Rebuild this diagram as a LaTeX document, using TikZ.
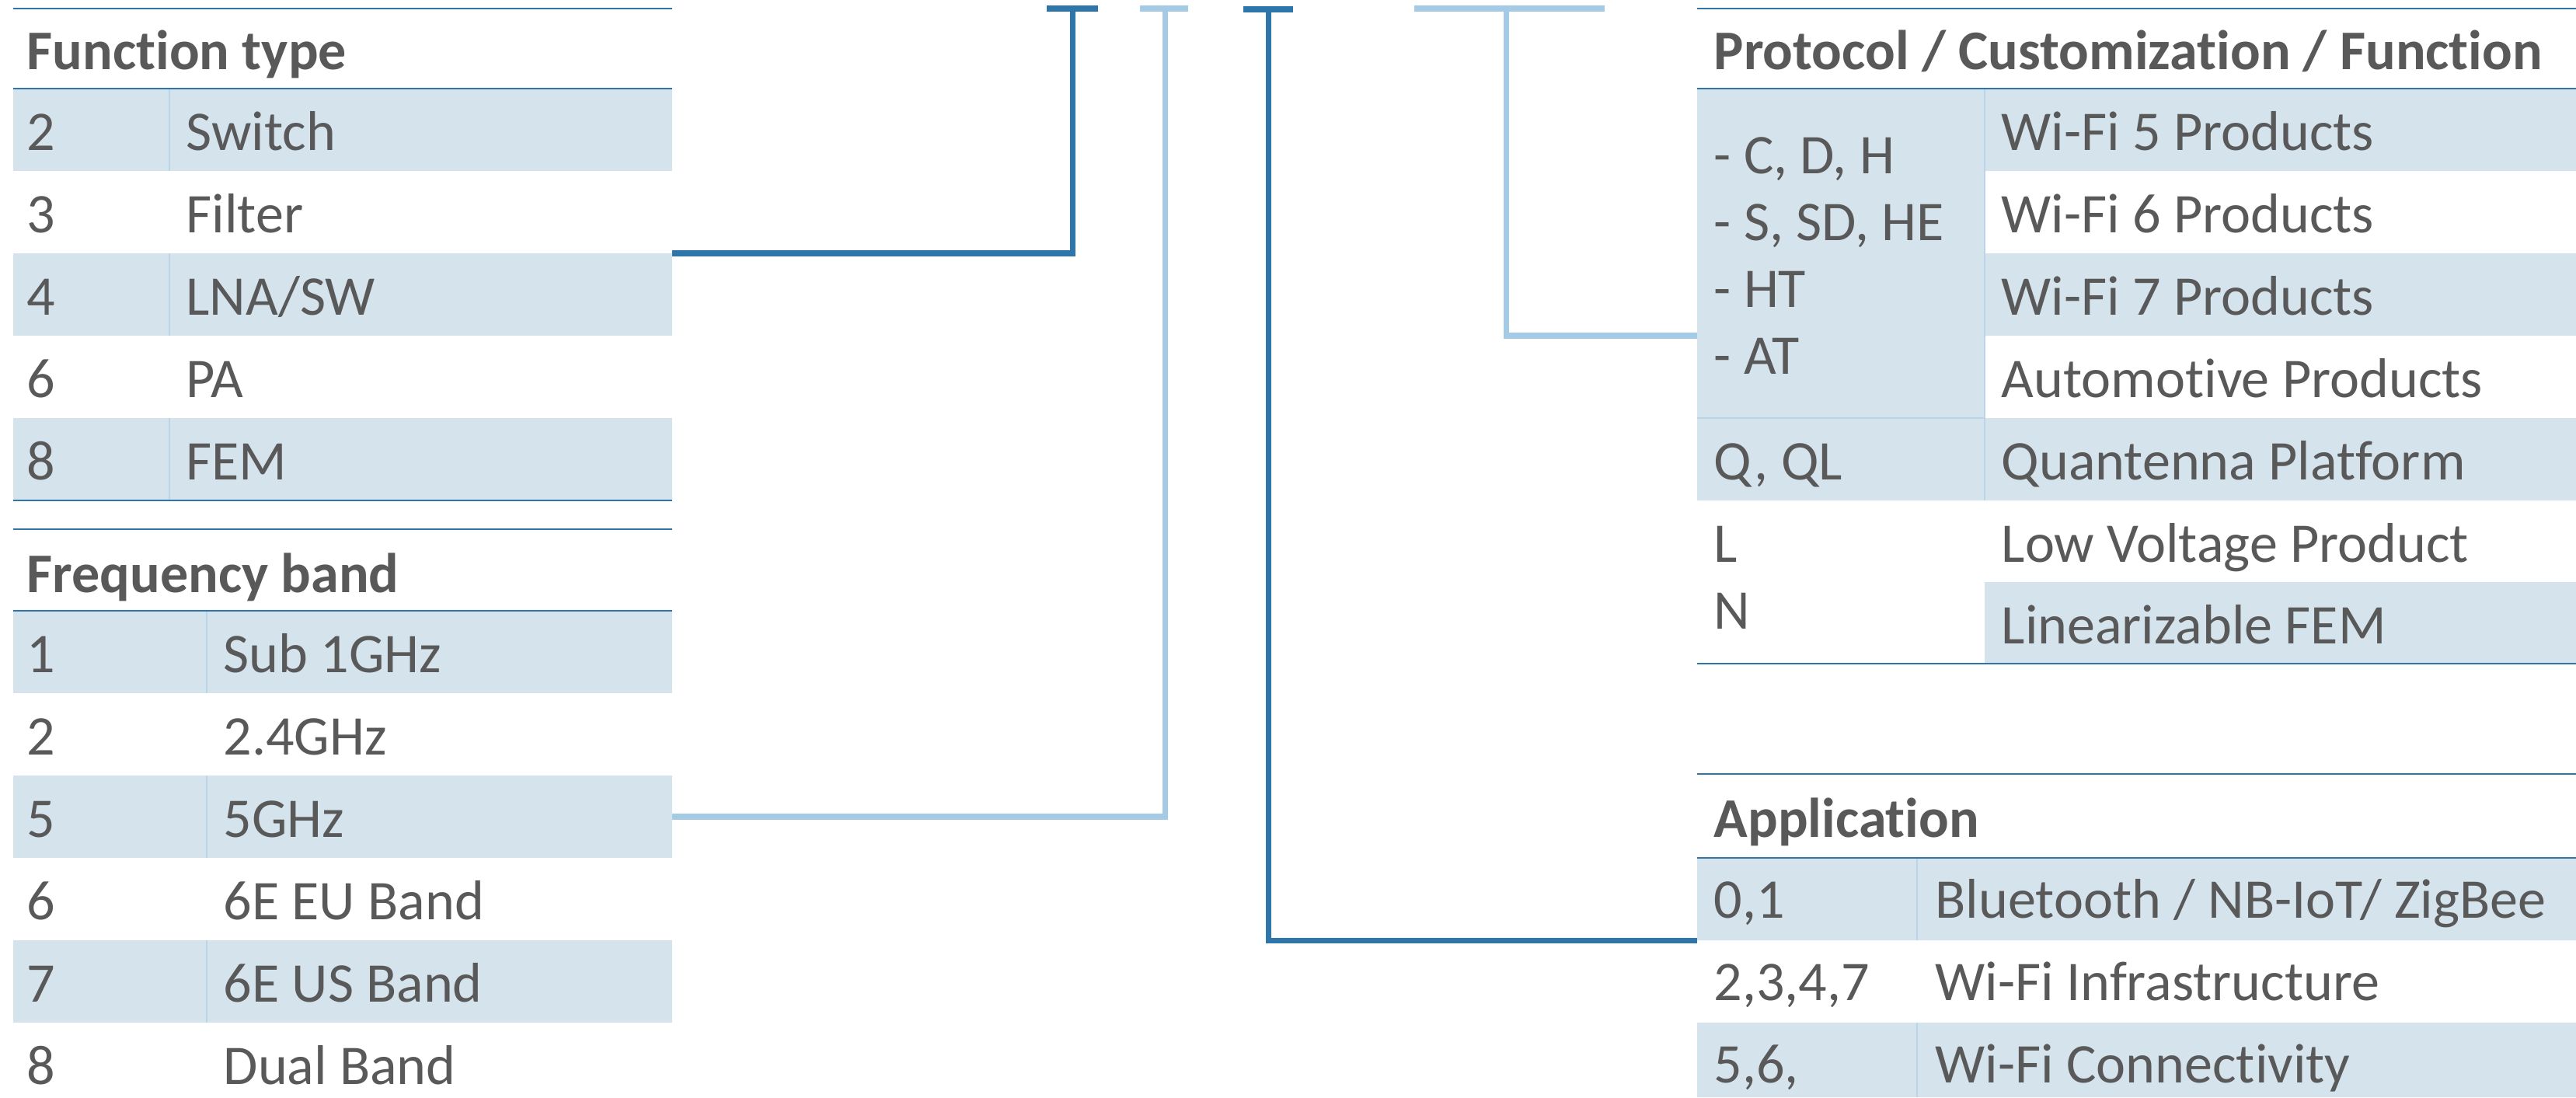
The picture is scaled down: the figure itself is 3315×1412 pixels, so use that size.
\documentclass[tikz,border=0pt]{standalone}
\usepackage{fontspec}
\setmainfont{Carlito}[Ligatures=NoCommon]
\definecolor{darkline}{RGB}{46,117,170}
\definecolor{lightline}{RGB}{164,202,230}
\definecolor{rowfill}{RGB}{213,227,237}
\definecolor{textgrey}{RGB}{89,89,89}
\tikzset{
  cell/.style={anchor=base west,inner sep=0pt,text=textgrey,font=\fontsize{20.5}{24}\selectfont},
  head/.style={cell,font=\fontsize{20.5}{24}\selectfont\bfseries},
  block/.style={anchor=west,inner sep=0pt,text=textgrey,align=left,font=\fontsize{20.5}{24.4}\selectfont},
  rule/.style={darkline,line width=0.8pt},
  divider/.style={lightline!55!rowfill,line width=0.5pt},
  darklink/.style={darkline,line width=2pt},
  lightlink/.style={lightline,line width=2pt},
  bar/.style={line width=2.3pt}
}
\begin{document}
\begin{tikzpicture}[x=0.01cm,y=-0.01cm]
\useasboundingbox (0,0) rectangle (3315,1412);
% function type
\foreach \r in {0,2,4}{
  \fill[rowfill] (17,114+106*\r) rectangle (865,220+106*\r);
  \draw[divider] (218,114+106*\r) -- (218,220+106*\r);
}
\draw[rule] (17,11) -- (865,11) (17,114) -- (865,114) (17,644) -- (865,644);
\node[head] (ft-head) at (34,89) {Function type};
\foreach \k/\v [count=\i from 0] in {2/Switch,3/Filter,4/{LNA/SW},6/PA,8/FEM}{
  \node[cell] (ft-k\i) at (34,193+106*\i) {\k};
  \node[cell] (ft-v\i) at (239,193+106*\i) {\v};
}
% frequency band
\foreach \r in {0,2,4}{
  \fill[rowfill] (17,786+106*\r) rectangle (865,892+106*\r);
  \draw[divider] (266,786+106*\r) -- (266,892+106*\r);
}
\draw[rule] (17,681) -- (865,681) (17,786) -- (865,786);
\node[head] (fb-head) at (34,762) {Frequency band};
\foreach \k/\v [count=\i from 0] in {1/Sub 1GHz,2/2.4GHz,5/5GHz,6/6E EU Band,7/6E US Band,8/Dual Band}{
  \node[cell] (fb-k\i) at (34,865+106*\i) {\k};
  \node[cell] (fb-v\i) at (287,865+106*\i) {\v};
}
% protocol / customization / function
\fill[rowfill] (2184,114) rectangle (2554,538);
\fill[rowfill] (2554,114) rectangle (3315,220) (2554,326) rectangle (3315,432);
\fill[rowfill] (2184,538) rectangle (3315,644) (2554,749) rectangle (3315,854);
\draw[divider] (2554,114) -- (2554,644) (2184,538) -- (2554,538);
\draw[rule] (2184,11) -- (3315,11) (2184,114) -- (3315,114) (2184,854) -- (3315,854);
\node[head] (pc-head) at (2205,89) {Protocol / Customization / Function};
\node[block] (pc-codes) at (2205,329) {- C, D, H\\- S, SD, HE\\- HT\\- AT};
\node[cell] (pc-q) at (2205,617) {Q, QL};
\node[block] (pc-ln) at (2205,743) {L\\N};
\foreach \v [count=\i from 0] in {Wi-Fi 5 Products,Wi-Fi 6 Products,Wi-Fi 7 Products,Automotive Products,Quantenna Platform,Low Voltage Product}{
  \node[cell] (pc-v\i) at (2575,193+106*\i) {\v};
}
\node[cell] (pc-v6) at (2575,828) {Linearizable FEM};
% application
\fill[rowfill] (2184,1104) rectangle (3315,1210) (2184,1316) rectangle (3315,1412);
\draw[divider] (2467,1104) -- (2467,1210) (2467,1316) -- (2467,1412);
\draw[rule] (2184,996) -- (3315,996) (2184,1104) -- (3315,1104);
\node[head] (ap-head) at (2205,1077) {Application};
\foreach \k/\v [count=\i from 0] in {{0,1}/{Bluetooth / NB-IoT/ ZigBee},{2,3,4,7}/{Wi-Fi Infrastructure},{5,6,}/{Wi-Fi Connectivity}}{
  \node[cell] (ap-k\i) at (2205,1181+106*\i) {\k};
  \node[cell] (ap-v\i) at (2490,1181+106*\i) {\v};
}
% code positions and their links
\coordinate (pos1) at (1380,11);
\coordinate (pos2) at (1499,11);
\coordinate (pos3) at (1632,11);
\coordinate (pos4) at (1938,11);
\coordinate (ft-out) at (865,326);
\coordinate (fb-out) at (865,1051);
\coordinate (ap-in) at (2184,1210);
\coordinate (pc-in) at (2184,432);
\draw[bar,darkline] (1347,11) -- (1413,11);
\draw[bar,lightline] (1467,11) -- (1529,11);
\draw[bar,darkline] (1600,12) -- (1664,12);
\draw[bar,lightline] (1820,11) -- (2065,11);
\draw[darklink] (pos1) |- (ft-out);
\draw[lightlink] (pos2) |- (fb-out);
\draw[darklink] (pos3) |- (ap-in);
\draw[lightlink] (pos4) |- (pc-in);
\end{tikzpicture}
\end{document}
